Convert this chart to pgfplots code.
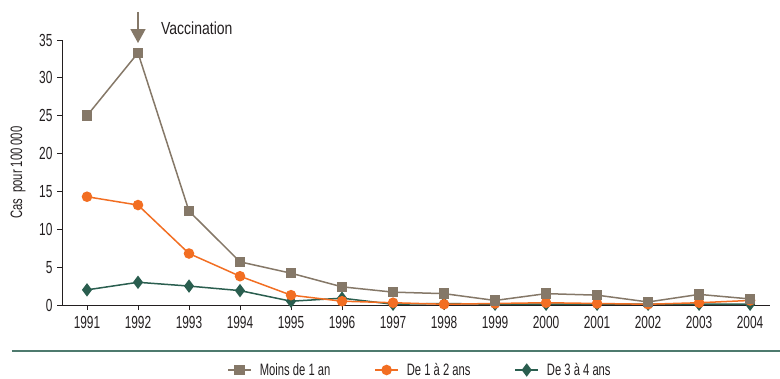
\documentclass[border=0pt]{standalone}
\usepackage{fontspec}
\setmainfont[FakeStretch=0.68]{Liberation Sans}
\newfontfamily\vfont[FakeStretch=0.8]{Liberation Sans}
\usepackage{pgfplots}
\pgfplotsset{compat=1.18}
\usetikzlibrary{arrows.meta}
\definecolor{cbrown}{HTML}{857868}
\definecolor{corange}{HTML}{F26E22}
\definecolor{cgreen}{HTML}{2A5E4F}
\definecolor{csep}{HTML}{4E7A6E}
\definecolor{ctext}{HTML}{231F20}
\begin{document}
\begin{tikzpicture}[x=1pt,y=1pt]
\path[use as bounding box] (-62,-73) rectangle (718,305);
\begin{axis}[
  at={(0,0)}, anchor=origin,
  scale only axis, width=708pt, height=265pt,
  xmin=1990.51, xmax=2004.39, ymin=0, ymax=35,
  axis x line*=bottom, axis y line*=left,
  xtick={1991,...,2004}, ytick={0,5,...,35},
  tick align=outside, major tick length=5pt,
  tick style={ctext, line width=0.8pt},
  axis line style={ctext, line width=0.9pt},
  x tick label style={/pgf/number format/1000 sep={}},
  /pgf/number format/assume math mode=true,
  tick label style={font=\fontsize{17.5}{19}\selectfont, text=ctext},
  xticklabel shift=3pt, yticklabel shift=1pt,
  ylabel={Cas\, pour 100 000},
  every axis y label/.style={at={(-44pt,132.5pt)}, rotate=90, anchor=center,
    font=\fontsize{16.5}{18}\selectfont, text=ctext},
  clip=false,
  legend columns=3,
  legend style={draw=none, fill=none, at={(358pt,-65pt)}, anchor=center,
    font=\fontsize{16.5}{18}\selectfont, text=ctext, inner sep=0pt,
    /tikz/every odd column/.append style={column sep=6pt},
    /tikz/every even column/.append style={column sep=42pt}},
  legend image code/.code={\draw[#1] (0pt,0pt) -- (23pt,0pt); \draw[#1, mark repeat=1] plot coordinates {(11.5pt,0pt)};},
]
\addlegendimage{cbrown, line width=1.5pt, mark=square*, mark size=4.5pt, mark options={solid, fill=cbrown}}
\addlegendentry{Moins de 1 an}
\addlegendimage{corange, line width=1.5pt, mark=*, mark size=4.5pt, mark options={solid, fill=corange}}
\addlegendentry{De 1 à 2 ans}
\addlegendimage{cgreen, line width=1.5pt, mark=diamond*, mark size=5.5pt, mark options={solid, fill=cgreen}}
\addlegendentry{De 3 à 4 ans}
\addplot[forget plot, cgreen, line width=1.5pt, mark=diamond*, mark size=5.5pt, mark options={solid, fill=cgreen}] coordinates {
(1991,2.0) (1992,3.0) (1993,2.5) (1994,1.9) (1995,0.5) (1996,0.9) (1997,0.1)
(1998,0.2) (1999,0.1) (2000,0.1) (2001,0.1) (2002,0.1) (2003,0.1) (2004,0.1)};
\addplot[forget plot, corange, line width=1.5pt, mark=*, mark size=4.5pt, mark options={solid, fill=corange}] coordinates {
(1991,14.3) (1992,13.2) (1993,6.8) (1994,3.8) (1995,1.3) (1996,0.5) (1997,0.3)
(1998,0.1) (1999,0.2) (2000,0.3) (2001,0.2) (2002,0.1) (2003,0.3) (2004,0.6)};
\addplot[forget plot, cbrown, line width=1.5pt, mark=square*, mark size=4.5pt, mark options={solid, fill=cbrown}] coordinates {
(1991,25.0) (1992,33.3) (1993,12.4) (1994,5.7) (1995,4.2) (1996,2.4) (1997,1.7)
(1998,1.5) (1999,0.6) (2000,1.5) (2001,1.3) (2002,0.4) (2003,1.4) (2004,0.8)};
\draw[-{Triangle[width=15pt,length=14pt]}, cbrown, line width=1.4pt] (axis cs:1992,38.7) -- (axis cs:1992,34.6);
\node[anchor=base west, inner sep=0pt, font=\vfont\fontsize{17.5}{19}\selectfont, text=ctext] at (axis cs:1992.45,35.7) {Vaccination};
\end{axis}
\draw[csep, line width=1.8pt] (-50,-46) -- (718,-46);
\end{tikzpicture}
\end{document}
